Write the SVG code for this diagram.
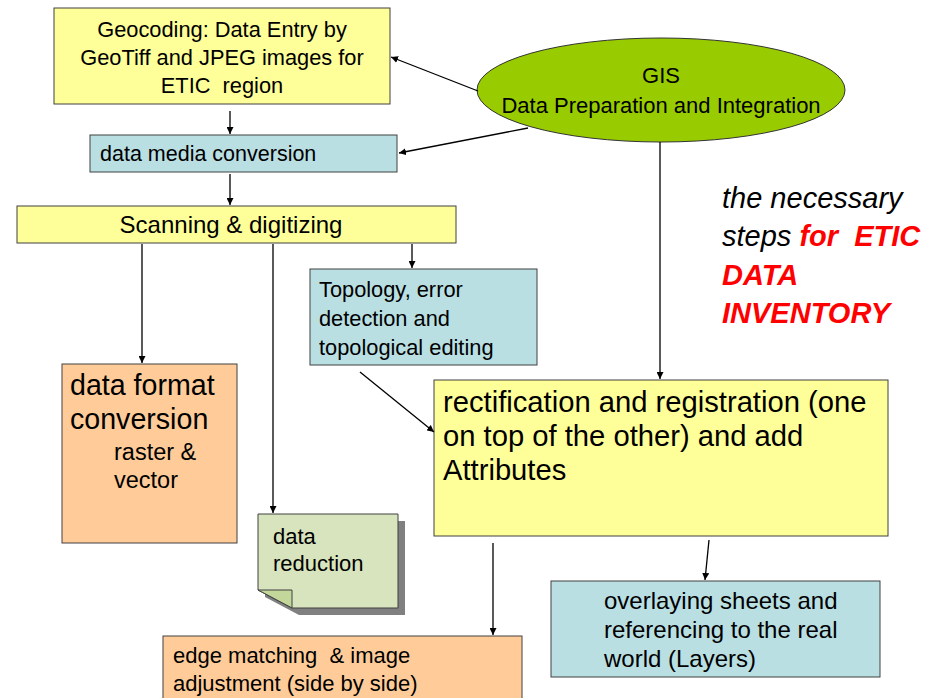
<svg xmlns="http://www.w3.org/2000/svg" width="937" height="698" viewBox="0 0 937 698" font-family="'Liberation Sans', Arimo, Arial, Helvetica, sans-serif">
<style>
text{font-family:'Liberation Sans', Arimo, Arial, Helvetica, sans-serif;fill:#000}
.box{stroke:#404040;stroke-width:1}
.y{fill:#FFFF99}
.b{fill:#B9DFE3}
.o{fill:#FFCC99}
.red{fill:#FF0000;font-weight:bold}
.c line{stroke:#000;stroke-width:1.3;marker-end:url(#ah)}
</style>
<defs>
<marker id="ah" viewBox="0 0 10 10" refX="10" refY="5" markerWidth="7" markerHeight="7" markerUnits="userSpaceOnUse" orient="auto">
<path d="M0,0 L10,5 L0,10 z" fill="#000"/>
</marker>
</defs>
<rect width="937" height="698" fill="#fff"/>

<g id="geocoding">
<rect class="box y" x="54" y="8" width="336" height="96"/>
<text x="222" y="37" font-size="21.8" text-anchor="middle">Geocoding: Data Entry by</text>
<text x="222" y="65" font-size="21.8" text-anchor="middle">GeoTiff and JPEG images for</text>
<text x="222" y="93" font-size="21.8" text-anchor="middle" xml:space="preserve">ETIC  region</text>
</g>

<g id="media">
<rect class="box b" x="90" y="135" width="307" height="37"/>
<text x="100" y="161" font-size="21.5">data media conversion</text>
</g>

<g id="scanning">
<rect class="box y" x="17" y="206" width="439" height="37"/>
<text x="231" y="233" font-size="24" text-anchor="middle">Scanning &amp; digitizing</text>
</g>

<g id="gis">
<ellipse cx="661" cy="90" rx="184" ry="52" fill="#99CC00" stroke="#333" stroke-width="1"/>
<text x="661" y="83" font-size="22" text-anchor="middle">GIS</text>
<text x="661" y="113" font-size="22" text-anchor="middle">Data Preparation and Integration</text>
</g>

<g id="topology">
<rect class="box b" x="310" y="269" width="227" height="96"/>
<text x="319" y="297" font-size="21.8">Topology, error</text>
<text x="319" y="326" font-size="21.8">detection and</text>
<text x="319" y="355" font-size="21.8">topological editing</text>
</g>

<g id="rectification">
<rect class="box y" x="434" y="380" width="454" height="156"/>
<text x="443" y="412" font-size="29.2">rectification and registration (one</text>
<text x="443" y="446" font-size="29.2">on top of the other) and add</text>
<text x="443" y="480" font-size="29.2">Attributes</text>
</g>

<g id="dataformat">
<rect class="box o" x="62" y="364" width="175" height="179"/>
<text x="70" y="395" font-size="28.6">data format</text>
<text x="70" y="429" font-size="28.6">conversion</text>
<text x="114" y="460" font-size="23.5">raster &amp;</text>
<text x="114" y="488" font-size="23.5">vector</text>
</g>

<g id="reduction">
<path d="M265,521 H405 V615 H299 L265,597 Z" fill="#808080"/>
<path d="M258,514 H398 V608 H292 L258,590 Z" fill="#D7E4BD" stroke="#404040" stroke-width="1"/>
<path d="M258,590 H292 V608 Z" fill="#C4D79B" stroke="#404040" stroke-width="1"/>
<text x="273" y="544" font-size="22">data</text>
<text x="273" y="571" font-size="22">reduction</text>
</g>

<g id="edgematching">
<rect class="box o" x="163" y="636" width="359" height="70"/>
<text x="173" y="663" font-size="22" xml:space="preserve">edge matching  &amp; image</text>
<text x="173" y="691" font-size="22">adjustment (side by side)</text>
</g>

<g id="overlaying">
<rect class="box b" x="551" y="581" width="329" height="96"/>
<text x="604" y="609" font-size="24">overlaying sheets and</text>
<text x="604" y="638" font-size="24">referencing to the real</text>
<text x="604" y="667" font-size="24">world (Layers)</text>
</g>

<g id="note">
<text x="722" y="208" font-size="29" font-style="italic">the necessary</text>
<text x="722" y="246" font-size="29" font-style="italic" xml:space="preserve">steps <tspan class="red">for  ETIC</tspan></text>
<text x="722" y="285" font-size="29" font-style="italic" class="red">DATA</text>
<text x="722" y="323" font-size="29" font-style="italic" class="red">INVENTORY</text>
</g>

<g id="connectors" class="c">
<line x1="478" y1="91" x2="391" y2="57"/>
<line x1="528" y1="128" x2="399" y2="153"/>
<line x1="660" y1="142" x2="660" y2="379"/>
<line x1="230" y1="111" x2="230" y2="134"/>
<line x1="230" y1="174" x2="230" y2="205"/>
<line x1="142" y1="244" x2="142" y2="363"/>
<line x1="273" y1="244" x2="273" y2="513"/>
<line x1="412" y1="244" x2="412" y2="268"/>
<line x1="360" y1="372" x2="434" y2="432"/>
<line x1="493" y1="543" x2="493" y2="635"/>
<line x1="709" y1="540" x2="705" y2="580"/>
</g>
</svg>
